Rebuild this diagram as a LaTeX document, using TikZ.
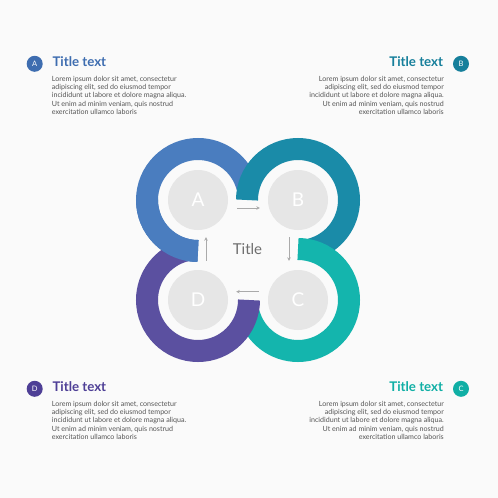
\documentclass[tikz,border=0pt]{standalone}
\usepackage{fontspec}
\setmainfont{Lato}
\usetikzlibrary{arrows.meta}
\definecolor{bg}{HTML}{FAFAFA}
\definecolor{colA}{HTML}{4A7DBF}
\definecolor{colB}{HTML}{1A8BA8}
\definecolor{colC}{HTML}{14B5AD}
\definecolor{colD}{HTML}{5B50A0}
\definecolor{titA}{HTML}{3E6DB0}
\definecolor{titB}{HTML}{167F9B}
\definecolor{titC}{HTML}{10AFA5}
\definecolor{titD}{HTML}{4E3F96}
\definecolor{gcirc}{HTML}{E6E6E6}
\definecolor{arrgray}{HTML}{AAAAAA}
\definecolor{bodygray}{HTML}{555555}
\definecolor{ctitle}{HTML}{6E6E6E}
\newcommand{\bodytext}{Lorem ipsum dolor sit amet, consectetur\\adipiscing elit, sed do eiusmod tempor\\incididunt ut labore et dolore magna aliqua.\\Ut enim ad minim veniam, quis nostrud\\exercitation ullamco laboris}
\begin{document}
\begin{tikzpicture}[x=1pt,y=-1pt,
  ring/.style={line width=22pt},
  gray circle/.style={circle, fill=gcirc, minimum size=60pt, inner sep=0pt, text=white, font=\fontsize{19}{19}\selectfont},
  badge/.style={circle, minimum size=16pt, inner sep=0pt, text=white, font=\fontsize{7.5}{7.5}\selectfont},
  ttl/.style={inner sep=0pt, font=\fontsize{13.3}{13.3}\selectfont\bfseries},
  body/.style={inner sep=0pt, text=bodygray, font=\fontsize{7.1}{8.33}\selectfont},
  arr/.style={draw=arrgray, line width=0.7pt, -{Stealth[length=3.5pt,width=3.5pt]}}]
\fill[bg] (0,0) rectangle (498,498);
\useasboundingbox (0,0) rectangle (498,498);
% rings
\draw[ring, colA] (198,200) ++(90:51) arc[start angle=90, end angle=345, radius=51];
\draw[ring, colB] (298,200) ++(180:51) arc[start angle=180, end angle=435, radius=51];
\draw[ring, colC] (298,300) ++(270:51) arc[start angle=270, end angle=525, radius=51];
\draw[ring, colD] (198,300) ++(0:51) arc[start angle=0, end angle=255, radius=51];
\draw[ring, colA] (198,200) ++(90:51) arc[start angle=90, end angle=180, radius=51];
% inner circles
\node[gray circle] (gA) at (198,200) {A};
\node[gray circle] (gB) at (298,200) {B};
\node[gray circle] (gC) at (298,300) {C};
\node[gray circle] (gD) at (198,300) {D};
\node[text=ctitle, font=\fontsize{15}{15}\selectfont] (title) at (247.5,249.5) {Title};
% arrows
\draw[arr] ([shift={(9,8)}]gA.east) -- ([shift={(-8,8)}]gB.west);
\draw[arr] ([shift={(-9,7)}]gB.south) -- ([shift={(-9,-9)}]gC.north);
\draw[arr] ([shift={(-9,-8.3)}]gC.west) -- ([shift={(8,-8.3)}]gD.east);
\draw[arr] ([shift={(8,-9)}]gD.north) -- ([shift={(8,7)}]gA.south);
% corner texts
\node[badge, fill=titA] (bA) at (34.7,63.8) {A};
\node[ttl, text=titA, anchor=base west] (tA) at (52.3,66.7) {Title text};
\node[body, anchor=north west, align=left] (pA) at (51.7,75.7) {\bodytext};

\node[badge, fill=titB] (bB) at (461,63.8) {B};
\node[ttl, text=titB, anchor=base east] (tB) at (443.3,66.7) {Title text};
\node[body, anchor=north east, align=right] (pB) at (444,75.7) {\bodytext};

\node[badge, fill=titD] (bD) at (34.7,388.8) {D};
\node[ttl, text=titD, anchor=base west] (tD) at (52.3,391.7) {Title text};
\node[body, anchor=north west, align=left] (pD) at (51.7,400.7) {\bodytext};

\node[badge, fill=titC] (bC) at (461,388.8) {C};
\node[ttl, text=titC, anchor=base east] (tC) at (443.3,391.7) {Title text};
\node[body, anchor=north east, align=right] (pC) at (444,400.7) {\bodytext};
\end{tikzpicture}
\end{document}
